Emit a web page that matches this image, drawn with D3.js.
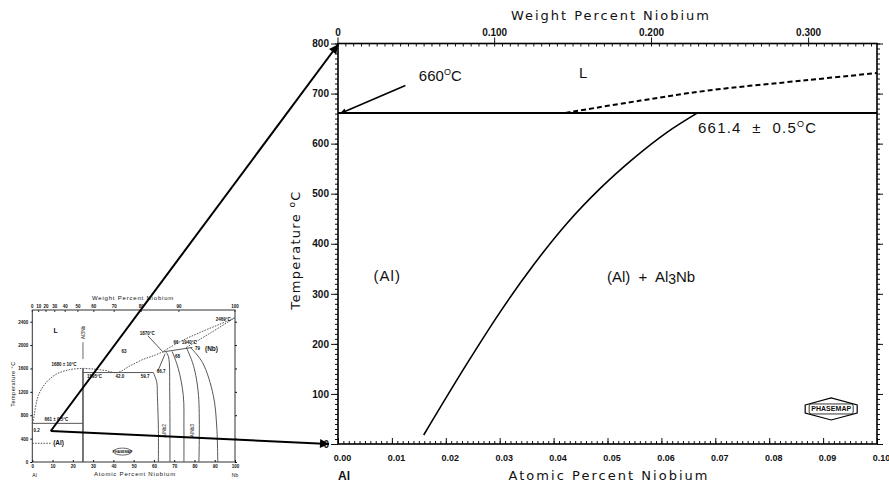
<!doctype html>
<html lang="en">
<head>
<meta charset="UTF-8">
<title>Al-Nb phase diagram, Al-rich end</title>
<style>
 body { margin: 0; background: #fff; }
 svg { display: block; }
 text { font-family: "Liberation Sans", Arial, sans-serif; fill: #111; }
 .title { font-family: "DejaVu Sans", sans-serif; font-size: 13px; }
 .tick text { font-family: "Liberation Sans", sans-serif; font-weight: bold; fill: #111; }
 .tick line { stroke: #111; }
</style>
</head>
<body>
<svg id="chart"></svg>
<script src="https://d3js.org/d3.v7.min.js"></script>
<script>
const W = 889, H = 483;

// ---------- main plot data (x: at.% Nb, y: deg C) ----------
const atTicks = [0, 0.01, 0.02, 0.03, 0.04, 0.05, 0.06, 0.07, 0.08, 0.09, 0.10];
const atTickLabels = ["0.00", "0.01", "0.02", "0.03", "0.04", "0.05", "0.06", "0.07", "0.08", "0.09", "0.10"];
const tempTicks = [0, 100, 200, 300, 400, 500, 600, 700, 800];
const wtTicks = [0, 0.1, 0.2, 0.3];
const wtTickLabels = ["0", "0.100", "0.200", "0.300"];

const eutecticT = 661.4;
const alMeltT = 660;
const liquidus = [[0.0422, 661.4], [0.0561, 686], [0.0686, 706], [0.0872, 727], [0.10, 741]];
const solvus = [[0.0159, 18], [0.0239, 160], [0.0301, 264], [0.0363, 358], [0.0425, 441],
                [0.0487, 511], [0.0549, 571], [0.0611, 623], [0.0667, 661.4]];

// text labels, anchored in data units
const mainLabels = [
  { t: "L", at: 0.0447, T: 731 },
  { t: "(Al)", at: 0.0066, T: 326 }
];
const arrow660 = [[0.0125, 716], [0.0004, alMeltT]];

// ---------- inset: full Al-Nb diagram (x: at.% Nb, y: deg C) ----------
const insetAtTicks = [0, 10, 20, 30, 40, 50, 60, 70, 80, 90, 100];
const insetWtTicks = [0, 10, 20, 30, 40, 50, 60, 70, 80, 90, 100];
const insetTempTicks = [0, 400, 800, 1200, 1600, 2000, 2400];

const liqAl = [[0, 660], [0.5, 714], [3, 1140], [7, 1365], [12, 1505], [18.5, 1580], [25, 1602]];
const liqMid = [[25, 1602], [30, 1590], [36, 1565], [42, 1530], [48, 1640], [55, 1760], [60, 1820], [64, 1880]];
const liqNb = [[64, 1880], [73, 2060], [83, 2220], [92, 2350], [100, 2469]];
const solNb = [[76, 1960], [88, 2210], [100, 2469]];
const peritecticTop = [[64, 1880], [79, 1960]];
const eutecticAl = [[0, 661], [25, 661]];
const peritecticAl3Nb = [[25, 1530], [59.7, 1530]];
const al3Nb = [[25, 0], [25, 1602]];
const nb2AlLeft = [[59.7, 1530], [61.4, 1364], [61.7, 1138], [62.2, 573], [62.2, 0]];
const nb2AlRight = [[66, 1880], [67.2, 1800], [67.8, 1200], [67.9, 0]];
const nb3AlLeft = [[69, 1890], [72, 1600], [74.5, 1138], [74.8, 600], [74.8, 0]];
const nb3AlRight = [[76, 1960], [79.5, 1650], [82, 1138], [82.2, 0]];
const nbSolvus = [[78, 1960], [84, 1700], [89.3, 1138], [91, 600], [91.5, 0]];
const alLeader = [[0, 320], [9, 320]];
const leader667 = [[62, 1560], [65.5, 1850]];
const leader1870 = [[57, 2160], [64, 1900]];
const leaderAl3Nb = [[25, 2050], [25, 1760]];

const insetLabels = [
  { t: "L", at: 10.5, T: 2207, s: 7 },
  { t: "1680 ± 10°C", at: 9.5, T: 1640, s: 4.5 },
  { t: "661 ± 0.5°C", at: 6, T: 700, s: 4.5 },
  { t: "0.2", at: 0.6, T: 520, s: 4.5 },
  { t: "(Al)", at: 10.3, T: 297, s: 6.5 },
  { t: "1595°C", at: 27, T: 1430, s: 4.5 },
  { t: "42.0", at: 41, T: 1430, s: 4.5 },
  { t: "59.7", at: 53.5, T: 1440, s: 4.5 },
  { t: "1870°C", at: 53, T: 2175, s: 4.5 },
  { t: "63", at: 44, T: 1869, s: 4.5 },
  { t: "66", at: 69.6, T: 2020, s: 4.5 },
  { t: "1940°C", at: 73.7, T: 2010, s: 4.5 },
  { t: "66.7", at: 61.4, T: 1529, s: 4.5 },
  { t: "68", at: 70.4, T: 1784, s: 4.5 },
  { t: "79", at: 80.3, T: 1911, s: 4.5 },
  { t: "(Nb)", at: 85.2, T: 1895, s: 6.5 },
  { t: "2469°C", at: 90.5, T: 2413, s: 4.5 }
];
const insetVertLabels = [
  { t: "Al3Nb", at: 25, T: 2215 },
  { t: "AlNb2", at: 65.2, T: 535 },
  { t: "AlNb3", at: 79, T: 535 }
];
const insetApex = [9.1, 530];

// weight percent -> atomic percent (Nb in Al)
const M_NB = 92.906, M_AL = 26.982;
const wtToAt = w => 100 * (w / M_NB) / (w / M_NB + (100 - w) / M_AL);

const svg = d3.select('#chart').attr('width', W).attr('height', H);

const x = d3.scaleLinear().domain([0, 0.10]).range([338, 877]);
const y = d3.scaleLinear().domain([0, 800]).range([444, 43.5]);
const ix = d3.scaleLinear().domain([0, 100]).range([32.3, 235]);
const iy = d3.scaleLinear().domain([0, 2600]).range([462, 310]);

const defs = svg.append('defs');
function marker(id, w, h) {
  defs.append('marker').attr('id', id).attr('viewBox', '0 0 10 10')
      .attr('refX', 10).attr('refY', 5)
      .attr('markerWidth', w).attr('markerHeight', h)
      .attr('markerUnits', 'userSpaceOnUse').attr('orient', 'auto')
      .append('path').attr('d', 'M0,0L10,5L0,10z').attr('fill', '#000');
}
marker('head', 11, 9);
marker('headThin', 12, 6);

const clean = g => g.select('.domain').remove();

// ================= inset =================
const inset = svg.append('g');
const iline = d3.line().x(d => ix(d[0])).y(d => iy(d[1]));
const icurve = d3.line().x(d => ix(d[0])).y(d => iy(d[1])).curve(d3.curveCatmullRom);

inset.append('rect')
     .attr('x', ix(0)).attr('y', iy(2600))
     .attr('width', ix(100) - ix(0)).attr('height', iy(0) - iy(2600))
     .attr('fill', 'none').attr('stroke', '#333').attr('stroke-width', 1);

inset.append('g').attr('transform', `translate(${ix(0)},0)`)
     .call(d3.axisLeft(iy).tickValues(insetTempTicks).tickSize(2).tickPadding(2).tickFormat(d3.format('d')))
     .call(clean)
     .call(g => g.selectAll('text').attr('font-size', 4.5).attr('fill', '#444'));
inset.append('g').attr('transform', `translate(${ix(100)},0)`)
     .call(d3.axisRight(iy).tickValues(insetTempTicks).tickSize(2).tickFormat(''))
     .call(clean);
inset.append('g').attr('transform', `translate(0,${iy(0)})`)
     .call(d3.axisBottom(ix).tickValues(insetAtTicks).tickSize(-2).tickPadding(3))
     .call(clean)
     .call(g => g.selectAll('text').attr('font-size', 4.5).attr('fill', '#444'));
inset.append('g').attr('transform', `translate(0,${iy(2600)})`)
     .call(g => {
       const t = g.selectAll('g').data(insetWtTicks).join('g')
                  .attr('transform', d => `translate(${ix(wtToAt(d))},0)`);
       t.append('line').attr('y2', 2).attr('stroke', '#333');
       t.append('text').attr('y', -2).attr('text-anchor', 'middle')
        .attr('font-size', 4.5).attr('font-weight', 'bold').attr('fill', '#444').text(d => d);
     });

inset.append('text').attr('x', 133).attr('y', 300).attr('text-anchor', 'middle')
     .attr('font-size', 6).attr('fill', '#444').attr('letter-spacing', 0.8)
     .text('Weight Percent Niobium');
inset.append('text').attr('x', 135).attr('y', 476).attr('text-anchor', 'middle')
     .attr('font-size', 6).attr('fill', '#444').attr('letter-spacing', 0.8)
     .text('Atomic Percent Niobium');
inset.append('text').attr('transform', 'translate(15,384) rotate(-90)').attr('text-anchor', 'middle')
     .attr('font-size', 5.5).attr('fill', '#444').attr('letter-spacing', 0.5)
     .text('Temperature °C');
inset.append('text').attr('x', ix(0)).attr('y', 477).attr('font-size', 5).attr('fill', '#444').text('Al');
inset.append('text').attr('x', ix(100)).attr('y', 477).attr('text-anchor', 'middle')
     .attr('font-size', 5).attr('fill', '#444').text('Nb');

const dotted = [liqAl, liqMid, liqNb, solNb, alLeader];
dotted.forEach(d => inset.append('path').attr('d', icurve(d)).attr('fill', 'none')
  .attr('stroke', '#444').attr('stroke-width', 0.9).attr('stroke-dasharray', '1.6,1.2'));
const solid = [eutecticAl, peritecticAl3Nb, peritecticTop, nb2AlLeft, nb2AlRight,
               nb3AlLeft, nb3AlRight, nbSolvus, leader667, leader1870];
solid.forEach(d => inset.append('path').attr('d', icurve(d)).attr('fill', 'none')
  .attr('stroke', '#444').attr('stroke-width', 0.9));
inset.append('path').attr('d', iline(al3Nb)).attr('stroke', '#555').attr('stroke-width', 1.6);
inset.append('path').attr('d', iline(leaderAl3Nb)).attr('stroke', '#444').attr('stroke-width', 0.8);

inset.selectAll('text.il').data(insetLabels).join('text').attr('class', 'il')
     .attr('x', d => ix(d.at)).attr('y', d => iy(d.T))
     .attr('font-size', d => d.s).attr('font-weight', 'bold').attr('fill', '#444')
     .text(d => d.t);
inset.selectAll('text.iv').data(insetVertLabels).join('text').attr('class', 'iv')
     .attr('transform', d => `translate(${ix(d.at) + 1.8},${iy(d.T)}) rotate(-90)`)
     .attr('text-anchor', 'middle').attr('font-size', 5).attr('fill', '#444')
     .text(d => d.t);

// tiny PHASEMAP mark in the inset
inset.append('ellipse').attr('cx', ix(44.5)).attr('cy', iy(178)).attr('rx', 9).attr('ry', 3.5)
     .attr('fill', 'none').attr('stroke', '#444').attr('stroke-width', 0.8);
inset.append('text').attr('x', ix(44.5)).attr('y', iy(178) + 1.5).attr('text-anchor', 'middle')
     .attr('font-size', 3.5).attr('font-weight', 'bold').attr('fill', '#444').text('PHASEMAP');

// ================= main plot =================
const main = svg.append('g');
const line = d3.line().x(d => x(d[0])).y(d => y(d[1]));

// left axis
main.append('g').attr('transform', `translate(${x(0)},0)`)
    .call(d3.axisLeft(y).tickValues(d3.range(0, 801, 10)).tickSize(3).tickFormat(''))
    .call(clean);
main.append('g').attr('transform', `translate(${x(0)},0)`)
    .call(d3.axisLeft(y).tickValues(tempTicks).tickSize(7).tickPadding(2))
    .call(clean)
    .call(g => g.selectAll('text').attr('font-size', 10));
// right axis
main.append('g').attr('transform', `translate(${x(0.10)},0)`)
    .call(d3.axisRight(y).tickValues(d3.range(0, 801, 10)).tickSize(3).tickFormat(''))
    .call(clean);
main.append('g').attr('transform', `translate(${x(0.10)},0)`)
    .call(d3.axisRight(y).tickValues(tempTicks).tickSize(6).tickFormat(''))
    .call(clean);
// bottom axis
main.append('g').attr('transform', `translate(0,${y(0)})`)
    .call(d3.axisBottom(x).tickValues(d3.range(0, 0.1001, 0.001)).tickSize(-3).tickFormat(''))
    .call(clean);
main.append('g').attr('transform', `translate(0,${y(0)})`)
    .call(d3.axisBottom(x).tickValues(atTicks).tickSize(-6).tickPadding(11)
            .tickFormat((d, i) => atTickLabels[i]))
    .call(clean)
    .call(g => g.selectAll('text').attr('font-size', 9).attr('dx', 4));
// top axis (weight percent)
const wtMax = 0.344;
main.append('g').selectAll('line').data(d3.range(0, wtMax, 0.005)).join('line')
    .attr('x1', d => x(wtToAt(d))).attr('x2', d => x(wtToAt(d)))
    .attr('y1', y(800)).attr('y2', y(800) + 3).attr('stroke', '#111');
const wtG = main.append('g').selectAll('g').data(wtTicks).join('g')
    .attr('transform', d => `translate(${x(wtToAt(d))},${y(800)})`);
wtG.append('line').attr('y1', 0).attr('y2', -6).attr('stroke', '#111');
wtG.append('text').attr('y', -8).attr('text-anchor', 'middle')
   .attr('font-size', 10).attr('font-weight', 'bold')
   .text((d, i) => wtTickLabels[i]);

// frame
main.append('rect').attr('x', x(0)).attr('y', y(800))
    .attr('width', x(0.10) - x(0)).attr('height', y(0) - y(800))
    .attr('fill', 'none').attr('stroke', '#000').attr('stroke-width', 1.6);

// axis titles
main.append('text').attr('class', 'title').attr('x', 610).attr('y', 20)
    .attr('text-anchor', 'middle').attr('textLength', 198).attr('lengthAdjust', 'spacing')
    .text('Weight Percent Niobium');
main.append('text').attr('class', 'title').attr('x', 608).attr('y', 480)
    .attr('text-anchor', 'middle').attr('textLength', 199).attr('lengthAdjust', 'spacing')
    .text('Atomic Percent Niobium');
const yt = main.append('text').attr('class', 'title')
    .attr('transform', 'translate(300,250) rotate(-90)').attr('text-anchor', 'middle')
    .attr('letter-spacing', 1.3);
yt.append('tspan').text('Temperature ');
yt.append('tspan').attr('dy', -5).attr('font-size', 9).text('o');
yt.append('tspan').attr('dy', 5).text('C');
main.append('text').attr('x', x(0)).attr('y', 480).attr('font-size', 12).attr('font-weight', 'bold').text('Al');

// phase lines
main.append('path').attr('d', line([[0, eutecticT], [0.10, eutecticT]]))
    .attr('stroke', '#000').attr('stroke-width', 2);
main.append('path').attr('d', line.curve(d3.curveCatmullRom)(liquidus))
    .attr('fill', 'none').attr('stroke', '#000').attr('stroke-width', 2)
    .attr('stroke-dasharray', '5,3');
main.append('path').attr('d', line.curve(d3.curveMonotoneX)(solvus))
    .attr('fill', 'none').attr('stroke', '#000').attr('stroke-width', 1.6);

// labels
main.selectAll('text.lab').data(mainLabels).join('text').attr('class', 'lab')
    .attr('x', d => x(d.at)).attr('y', d => y(d.T)).attr('font-size', 15)
    .attr('letter-spacing', 1).text(d => d.t);

const t660 = main.append('text').attr('x', x(0.0150)).attr('y', y(725)).attr('font-size', 15);
t660.append('tspan').text('660');
t660.append('tspan').attr('dy', -6).attr('font-size', 9).text('O');
t660.append('tspan').attr('dy', 6).text('C');

const tEut = main.append('text').attr('x', x(0.0668)).attr('y', y(621)).attr('font-size', 15)
    .attr('letter-spacing', 1.2).style('white-space', 'pre');
tEut.append('tspan').text('661.4  ±  0.5');
tEut.append('tspan').attr('dy', -6).attr('font-size', 9).text('O');
tEut.append('tspan').attr('dy', 6).text('C');

const tTwo = main.append('text').attr('x', x(0.0499)).attr('y', y(324)).attr('font-size', 15)
    .style('white-space', 'pre');
tTwo.append('tspan').text('(Al)  +  Al');
tTwo.append('tspan').attr('dy', 2).attr('font-size', 14).text('3');
tTwo.append('tspan').attr('dy', -2).text('Nb');

main.append('path').attr('d', d3.line().x(d => x(d[0])).y(d => y(d[1]))(arrow660))
    .attr('stroke', '#000').attr('stroke-width', 1.6).attr('marker-end', 'url(#headThin)');

// PHASEMAP logo
const pm = main.append('g').attr('transform', `translate(${x(0.0915)},${y(70)})`);
pm.append('path').attr('d', 'M-26,-4L0,-11L26,-4L26,4L0,11L-26,4Z')
  .attr('fill', '#fff').attr('stroke', '#000').attr('stroke-width', 1.2);
pm.append('rect').attr('x', -22).attr('y', -5).attr('width', 44).attr('height', 10).attr('rx', 2)
  .attr('fill', 'none').attr('stroke', '#000').attr('stroke-width', 0.8);
pm.append('text').attr('y', 2.5).attr('text-anchor', 'middle').attr('font-size', 7)
  .attr('font-weight', 'bold').attr('textLength', 40).text('PHASEMAP');

// ================= zoom pointers from inset to main =================
const apex = [ix(insetApex[0]), iy(insetApex[1])];
svg.append('line').attr('x1', apex[0]).attr('y1', apex[1])
   .attr('x2', x(0)).attr('y2', y(800) + 1)
   .attr('stroke', '#000').attr('stroke-width', 2).attr('marker-end', 'url(#head)');
svg.append('line').attr('x1', apex[0]).attr('y1', apex[1])
   .attr('x2', x(0) - 9).attr('y2', y(0))
   .attr('stroke', '#000').attr('stroke-width', 2).attr('marker-end', 'url(#head)');
</script>
</body>
</html>
